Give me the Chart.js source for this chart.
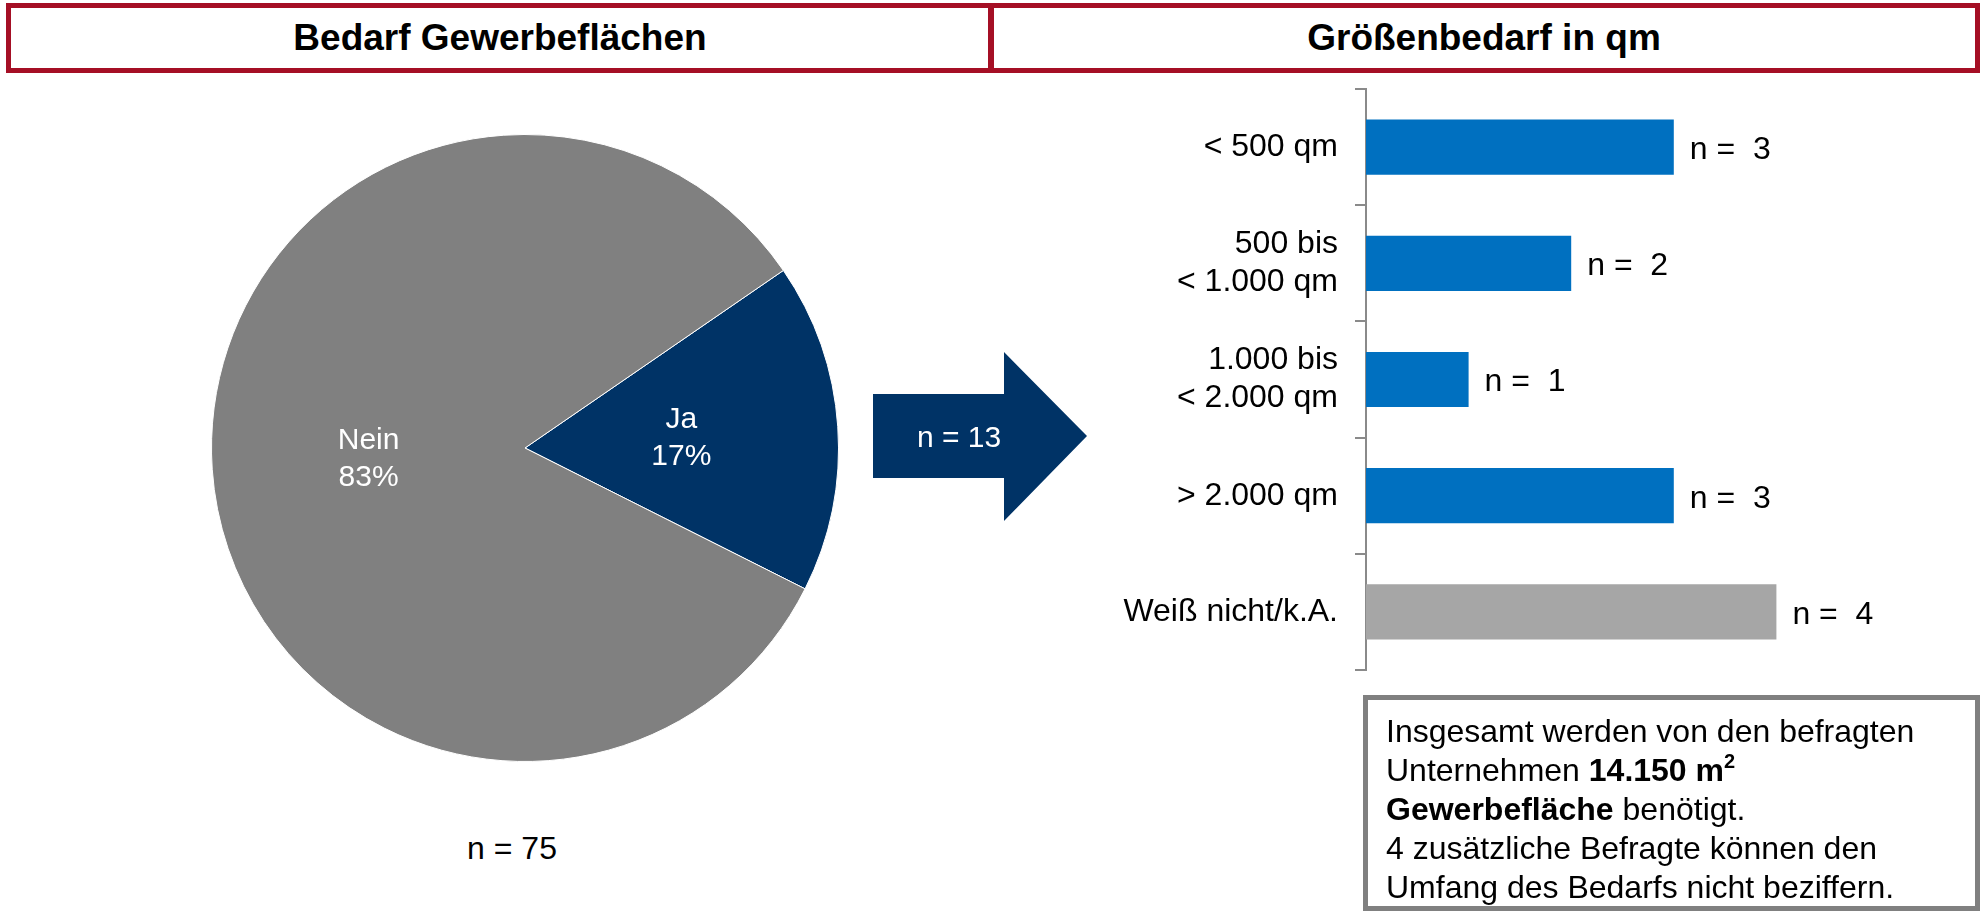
<!DOCTYPE html>
<html lang="de">
<head>
<meta charset="utf-8">
<title>Bedarf Gewerbeflächen</title>
<script src="https://cdn.jsdelivr.net/npm/chart.js@4.4.1/dist/chart.umd.min.js"></script>
<style>
  html, body { margin: 0; padding: 0; background: #fff; }
  body { width: 1985px; height: 912px; position: relative; overflow: hidden;
         font-family: "Liberation Sans", Arial, sans-serif; color: #000; }
  .head { position: absolute; top: 3px; height: 70px; box-sizing: border-box;
          border: 5px solid #A50F25; display: flex; align-items: center; justify-content: center;
          font-weight: bold; font-size: 37px; }
  #headLeft { left: 6px; width: 988px; }
  #headRight { left: 988px; width: 992px; }
  #pieWrap { position: absolute; left: 211px; top: 134px; width: 628px; height: 628px; }
  #barWrap { position: absolute; left: 1100px; top: 80px; width: 885px; height: 610px; }
  #pieN { position: absolute; left: 412px; width: 200px; top: 828px; text-align: center; font-size: 32px; line-height: 40px; }
  #arrow { position: absolute; left: 0; top: 0; }
  #arrowText { position: absolute; left: 873px; width: 172px; top: 417px; height: 40px; line-height: 40px;
               text-align: center; color: #fff; font-size: 30px; }
  #note { position: absolute; left: 1363px; top: 695px; width: 617px; height: 216px; box-sizing: border-box;
          border: 5px solid #808080; padding: 12px 0 0 18px; font-size: 32px; line-height: 39px; white-space: nowrap; }
  #note sup { font-size: 20px; line-height: 0; vertical-align: 13px; }
</style>
</head>
<body>
<div class="head" id="headLeft">Bedarf Gewerbeflächen</div>
<div class="head" id="headRight">Größenbedarf in qm</div>

<div id="pieWrap"><canvas id="pie" width="628" height="628"></canvas></div>
<div id="pieN">n = 75</div>

<svg id="arrow" width="1985" height="912">
  <polygon points="873,394 1004,394 1004,352 1087,436 1004,521 1004,478 873,478" fill="#003366"/>
</svg>
<div id="arrowText">n = 13</div>

<div id="barWrap"><canvas id="bars" width="885" height="610"></canvas></div>

<div id="note">Insgesamt werden von den befragten<br>Unternehmen <b>14.150 m<sup>2</sup></b><br><b>Gewerbefläche</b> benötigt.<br>4 zusätzliche Befragte können den<br>Umfang des Bedarfs nicht beziffern.</div>

<script>
// Share of firms with demand for commercial space (percent)
const pieLabels = ['Ja', 'Nein'];
const pieShares = [17, 83];
const pieColors = ['#003366', '#808080'];

// Required floor space by size class (number of firms)
const sizeCategories = [
  ['< 500 qm'],
  ['500 bis', '< 1.000 qm'],
  ['1.000 bis', '< 2.000 qm'],
  ['> 2.000 qm'],
  ['Weiß nicht/k.A.']
];
const sizeCounts = [3, 2, 1, 3, 4];
const sizeColors = ['#0070C0', '#0070C0', '#0070C0', '#0070C0', '#A6A6A6'];

Chart.defaults.font.family = "'Liberation Sans', Arial, sans-serif";
Chart.defaults.color = '#000';

// Writes "label / xx%" in the middle of each pie slice
const sliceLabels = {
  id: 'sliceLabels',
  afterDatasetsDraw(chart) {
    const ctx = chart.ctx;
    const meta = chart.getDatasetMeta(0);
    ctx.save();
    ctx.fillStyle = '#fff';
    ctx.font = "30px 'Liberation Sans', Arial, sans-serif";
    ctx.textAlign = 'center';
    ctx.textBaseline = 'middle';
    meta.data.forEach((arc, i) => {
      const p = arc.getProps(['x', 'y', 'startAngle', 'endAngle', 'outerRadius'], true);
      const mid = (p.startAngle + p.endAngle) / 2;
      const r = p.outerRadius * 0.5;
      const x = p.x + Math.cos(mid) * r;
      const y = p.y + Math.sin(mid) * r;
      ctx.fillText(pieLabels[i], x, y - 18);
      ctx.fillText(pieShares[i] + '%', x, y + 19);
    });
    ctx.restore();
  }
};

new Chart(document.getElementById('pie'), {
  type: 'pie',
  data: {
    labels: pieLabels,
    datasets: [{ data: pieShares, backgroundColor: pieColors, borderColor: '#fff', borderWidth: 1 }]
  },
  options: {
    responsive: false,
    animation: false,
    rotation: 55.5,
    layout: { padding: 0 },
    plugins: { legend: { display: false }, tooltip: { enabled: false } }
  },
  plugins: [sliceLabels]
});

// Writes "n =  x" to the right of each bar
const barValueLabels = {
  id: 'barValueLabels',
  afterDatasetsDraw(chart) {
    const ctx = chart.ctx;
    const meta = chart.getDatasetMeta(0);
    ctx.save();
    ctx.fillStyle = '#000';
    ctx.font = "32px 'Liberation Sans', Arial, sans-serif";
    ctx.textAlign = 'left';
    ctx.textBaseline = 'middle';
    meta.data.forEach((bar, i) => {
      const p = bar.getProps(['x', 'y'], true);
      ctx.fillText('n =  ' + sizeCounts[i], p.x + 16, p.y + 3);
    });
    ctx.restore();
  }
};

new Chart(document.getElementById('bars'), {
  type: 'bar',
  data: {
    labels: sizeCategories,
    datasets: [{ data: sizeCounts, backgroundColor: sizeColors, borderWidth: 0,
                 categoryPercentage: 1, barPercentage: 0.475 }]
  },
  options: {
    indexAxis: 'y',
    responsive: false,
    animation: false,
    layout: { padding: { left: 0, top: 9, right: 106, bottom: 20 } },
    scales: {
      x: { display: false, min: 0, max: 5 },
      y: {
        afterFit(scale) {
          scale.width = 266;
          scale.paddingTop = 0;
          scale.paddingBottom = 0;
        },
        grid: { drawOnChartArea: false, drawTicks: true, tickLength: 11, color: '#8a8a8a', lineWidth: 2, offset: true },
        border: { color: '#8a8a8a', width: 2 },
        ticks: { padding: 17, color: '#000', font: { size: 32, lineHeight: 1.19 } }
      }
    },
    plugins: { legend: { display: false }, tooltip: { enabled: false } }
  },
  plugins: [barValueLabels]
});
</script>
</body>
</html>
